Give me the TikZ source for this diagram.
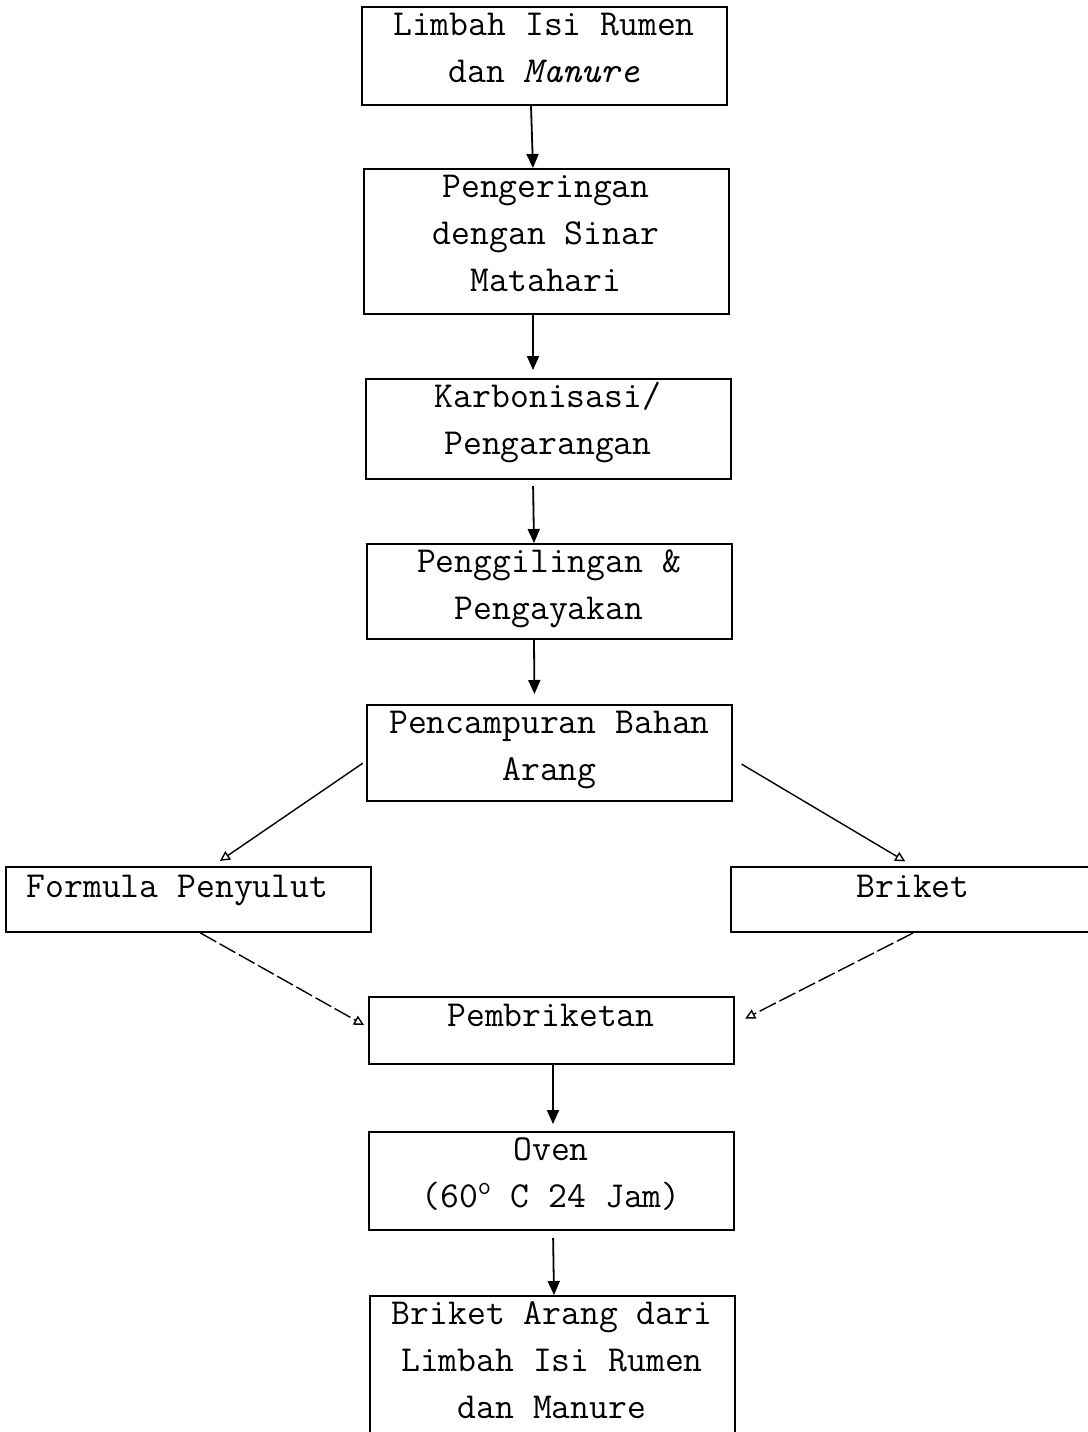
\documentclass[tikz,border=0pt]{standalone}
\usepackage{fontspec}
\usepackage{tikz}
\usetikzlibrary{arrows.meta, positioning}
\newcommand{\flowfont}{\ttfamily\fontsize{18.3}{23.5}\selectfont}

\begin{document}
\begin{tikzpicture}[
  x=0.5pt, y=-0.5pt,
  stage/.style={draw, line width=1pt, minimum width=182.5pt, inner xsep=0pt, inner ysep=0pt, text height=37.5pt, align=center, anchor=north, font=\flowfont},
  tall/.style={stage, text height=61pt},
  onerow/.style={draw, line width=1pt, minimum width=182.5pt, inner sep=0pt, text height=15pt, text depth=17.5pt, anchor=north, font=\flowfont},
  flow/.style={-{Triangle[length=7pt, width=6pt]}, line width=0.9pt},
  side/.style={-{Triangle[open, length=5pt, width=5pt]}, line width=0.7pt},
  faint/.style={side, dash pattern=on 9pt off 2pt}
]
  \useasboundingbox (0,0) rectangle (1088,1432);

  \node[stage, text depth=11.5pt] (waste) at (544,6) {Limbah Isi Rumen\\dan \textit{Manure}};
  \node[tall, text depth=11.5pt] (dry) at (546,168) {Pengeringan\\dengan Sinar\\Matahari};
  \node[stage, text depth=12.5pt] (carb) at (548,378) {Karbonisasi/\\Pengarangan};
  \node[stage, text depth=10pt] (grind) at (549,543) {Penggilingan \&\\Pengayakan};
  \node[stage, text depth=10.5pt] (mix) at (549.5,704) {Pencampuran Bahan\\Arang};
  \node[onerow] (igniter) at (188.5,866) {Formula Penyulut\hspace*{11pt}};
  \node[onerow] (briket) at (913,866) {Briket};
  \node[onerow, text height=14.5pt, text depth=19pt] (press) at (551,996) {Pembriketan};
  \node[stage, text depth=11.5pt] (oven) at (551,1131) {Oven\\(60\textsuperscript{o} C 24 Jam)};
  \node[tall, text depth=17pt] (product) at (552,1295) {Briket Arang dari\\Limbah Isi Rumen\\dan Manure};

  \draw[flow] ([xshift=-6.5pt]waste.south) -- ([xshift=-6.5pt]dry.north);
  \draw[flow, shorten >=4pt] ([xshift=-6.5pt]dry.south) -- ([xshift=-7.5pt]carb.north);
  \draw[flow, shorten <=3pt] ([xshift=-7.5pt]carb.south) -- ([xshift=-7.5pt]grind.north);
  \draw[flow, shorten >=5pt] ([xshift=-7.5pt]grind.south) -- ([xshift=-7.5pt]mix.north);
  \draw[side, shorten <=2pt, shorten >=4.5pt] ([yshift=-4pt]mix.west) -- ([xshift=12pt]igniter.north);
  \draw[side, shorten <=5pt, shorten >=4.5pt] ([yshift=-3pt]mix.east) -- (briket.north);
  \draw[faint, shorten >=2pt] ([xshift=6pt]igniter.south) -- ([yshift=1.75pt]press.west);
  \draw[faint, shorten >=6pt] (briket.south) -- ([yshift=3.25pt]press.east);
  \draw[flow, shorten >=3.5pt] ([xshift=1pt]press.south) -- ([xshift=1pt]oven.north);
  \draw[flow, shorten <=3.5pt] ([xshift=1pt]oven.south) -- ([xshift=1pt]product.north);
\end{tikzpicture}
\end{document}
